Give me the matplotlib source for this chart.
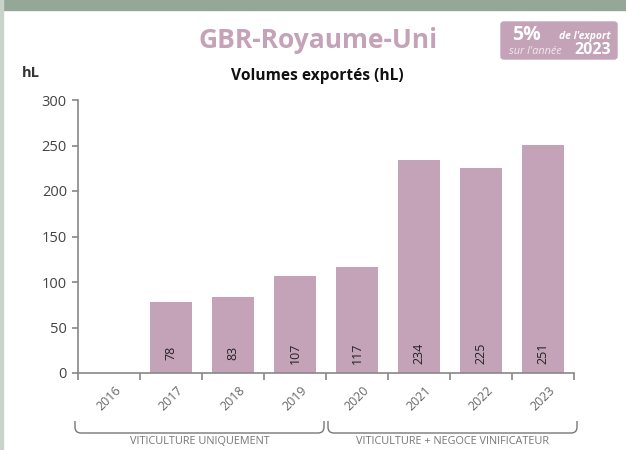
import matplotlib
matplotlib.use("Agg")
import matplotlib.pyplot as plt
from matplotlib.patches import FancyBboxPatch, Rectangle
from matplotlib.path import Path
from matplotlib.patches import PathPatch

years = ["2016", "2017", "2018", "2019", "2020", "2021", "2022", "2023"]
volumes = [0, 78, 83, 107, 117, 234, 225, 251]
yticks = [0, 50, 100, 150, 200, 250, 300]
groups = [("VITICULTURE UNIQUEMENT", 0, 4), ("VITICULTURE + NEGOCE VINIFICATEUR", 4, 8)]

BAR = "#c4a3b8"
GREEN = "#95a898"
FONT = ["Open Sans", "DejaVu Sans"]

W, H = 626, 450
fig = plt.figure(figsize=(W / 100, H / 100), dpi=100)
plt.rcParams["font.family"] = FONT

# frame decoration
fig.patches.append(Rectangle((0, 1 - 10 / H), 1, 10 / H, transform=fig.transFigure,
                             color=GREEN, zorder=0))
fig.patches.append(Rectangle((0, 0), 3 / W, 1, transform=fig.transFigure,
                             color="#c9d3c9", zorder=0))

ax = fig.add_axes([78 / W, 1 - 373 / H, (574 - 78) / W, (373 - 100) / H])
x = list(range(len(years)))
ax.bar(x, volumes, width=0.67, color=BAR, zorder=2)
for xi, v in zip(x, volumes):
    if v > 0:
        ax.text(xi, 22, f"{v}", rotation=90, ha="center", va="center",
                fontsize=9, color="#222222")

ax.set_xlim(-0.5, len(years) - 0.5)
ax.set_ylim(0, 300)
ax.set_yticks(yticks)
ax.set_yticklabels([str(t) for t in yticks], fontsize=10.5, color="#444444")
ax.set_xticks([i - 0.5 for i in range(len(years) + 1)], minor=False)
ax.set_xticklabels([])
ax.set_xticks(x, minor=True)
ax.set_xticklabels(years, minor=True, rotation=45, fontsize=9, color="#666666",
                   ha="center", va="top")
ax.tick_params(axis="x", which="minor", length=0, pad=8)
ax.tick_params(axis="x", which="major", length=5, color="#888888", width=1.2)
ax.tick_params(axis="y", length=4, color="#888888", width=1.2, pad=4)
for s in ["top", "right"]:
    ax.spines[s].set_visible(False)
for s in ["left", "bottom"]:
    ax.spines[s].set_color("#888888")
    ax.spines[s].set_linewidth(1.2)

# group brackets under the axis
def bracket(x0, x1, ytop, ybot, r=6):
    fx0, fx1 = x0 / W, x1 / W
    yt, yb = 1 - ytop / H, 1 - ybot / H
    rx, ry = r / W, r / H
    verts = [(fx0, yt), (fx0, yb + ry), (fx0, yb), (fx0 + rx, yb),
             (fx1 - rx, yb), (fx1, yb), (fx1, yb + ry), (fx1, yt)]
    codes = [Path.MOVETO, Path.LINETO, Path.CURVE3, Path.CURVE3,
             Path.LINETO, Path.CURVE3, Path.CURVE3, Path.LINETO]
    fig.patches.append(PathPatch(Path(verts, codes), transform=fig.transFigure,
                                 fill=False, edgecolor="#777777", lw=1.0))

axis_x0, step = 78, (574 - 78) / len(years)
for label, a, b in groups:
    x0 = axis_x0 + a * step + (-3 if a == 0 else 2)
    x1 = axis_x0 + b * step - (2 if b < len(years) else -3)
    bracket(x0, x1, 421, 433)
    fig.text((x0 + x1) / 2 / W, 1 - 441 / H, label, ha="center", va="center",
             fontsize=7.8, color="#777777")

# titles
fig.text(318 / W, 1 - 41 / H, "GBR-Royaume-Uni", ha="center", va="center",
         fontsize=19, fontweight="bold", color=BAR)
fig.text(317 / W, 1 - 76 / H, "Volumes exportés (hL)", ha="center", va="center",
         fontsize=11.2, fontweight="bold", color="#111111")
fig.text(22 / W, 1 - 73 / H, "hL", ha="left", va="center",
         fontsize=10.5, fontweight="bold", color="#333333")

# share badge
fig.patches.append(FancyBboxPatch((501 / W, 1 - 59 / H), 116 / W, 37 / H,
                                  boxstyle="round,pad=0,rounding_size=0.005",
                                  transform=fig.transFigure, color=BAR, zorder=1))
fig.text(526 / W, 1 - 35 / H, "5%", ha="center", va="center", fontsize=14,
         fontweight="bold", color="white")
fig.text(611 / W, 1 - 37 / H, "de l'export", ha="right", va="center", fontsize=7.5,
         fontweight="bold", style="italic", color="white")
fig.text(535 / W, 1 - 51 / H, "sur l'année", ha="center", va="center", fontsize=7.8,
         style="italic", color="#f2e8ee")
fig.text(611 / W, 1 - 50 / H, "2023", ha="right", va="center", fontsize=11.5,
         fontweight="bold", color="white")

fig.savefig("out.png", dpi=100)
